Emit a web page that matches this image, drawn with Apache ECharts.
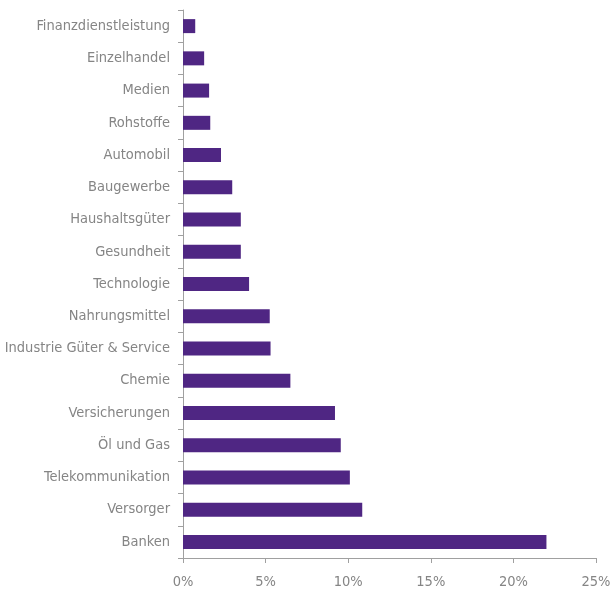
<!DOCTYPE html>
<html>
<head>
  <meta charset="utf-8">
  <title>Sektoren</title>
  <script src="https://cdn.jsdelivr.net/npm/echarts@6/dist/echarts.min.js"></script>
</head>
<body style="margin:0">
  <div id="main" style="width:611px;height:589px;"></div>
  <script type="text/javascript">
    var sectors = ['Banken', 'Versorger', 'Telekommunikation', 'Öl und Gas', 'Versicherungen', 'Chemie',
      'Industrie Güter & Service', 'Nahrungsmittel', 'Technologie', 'Gesundheit', 'Haushaltsgüter',
      'Baugewerbe', 'Automobil', 'Rohstoffe', 'Medien', 'Einzelhandel', 'Finanzdienstleistung'];
    var weights = [22.0, 10.85, 10.1, 9.55, 9.2, 6.5, 5.3, 5.25, 4.0, 3.5, 3.5, 2.98, 2.3, 1.65, 1.58, 1.28, 0.74];

    var myChart = echarts.init(document.getElementById('main'));
    var textFont = '"Liberation Sans Narrow", "DejaVu Sans Condensed", sans-serif';

    var option = {
      animation: false,
      grid: { left: 183, right: 15, top: 10, bottom: 31, outerBoundsMode: 'none' },
      xAxis: {
        type: 'value',
        min: 0,
        max: 25,
        interval: 5,
        splitLine: { show: false },
        axisLine: { show: true, lineStyle: { color: '#a0a0a0' } },
        axisTick: { show: true, length: 5, lineStyle: { color: '#a0a0a0' } },
        axisLabel: {
          color: '#858585', fontSize: 14.5, fontFamily: textFont, margin: 17,
          formatter: '{value}%'
        }
      },
      yAxis: {
        type: 'category',
        data: sectors,
        axisLine: { show: true, lineStyle: { color: '#a0a0a0' } },
        axisTick: { show: true, length: 5, lineStyle: { color: '#a0a0a0' } },
        axisLabel: { color: '#858585', fontSize: 14.5, fontFamily: textFont, margin: 13 }
      },
      series: [{
        type: 'bar',
        data: weights,
        barWidth: 14,
        itemStyle: { color: '#4f2683' }
      }]
    };

    myChart.setOption(option);
  </script>
</body>
</html>
